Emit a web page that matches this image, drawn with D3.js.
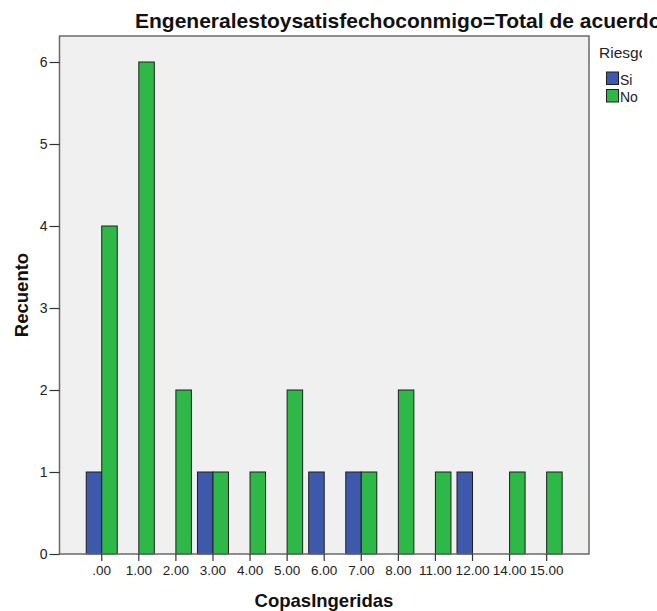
<!DOCTYPE html>
<html>
<head>
<meta charset="utf-8">
<script src="https://cdn.jsdelivr.net/npm/d3@7"></script>
<style>
  html, body { margin: 0; padding: 0; background: #ffffff; }
  svg { display: block; font-family: "Liberation Sans", Arial, sans-serif; }
</style>
</head>
<body>
<svg id="chart" width="657" height="611"></svg>
<script>
// Counts of respondents by drinks consumed, split by risk group
const categories = [".00", "1.00", "2.00", "3.00", "4.00", "5.00", "6.00", "7.00", "8.00", "11.00", "12.00", "14.00", "15.00"];
const siValues   = [1, 0, 0, 1, 0, 0, 1, 1, 0, 0, 1, 0, 0];
const noValues   = [4, 6, 2, 1, 1, 2, 0, 1, 2, 1, 0, 1, 1];
const seriesNames = ["Si", "No"];
const seriesColors = ["#3e58ac", "#2eb848"];
const yTicks = [0, 1, 2, 3, 4, 5, 6];
const titleText = "Engeneralestoysatisfechoconmigo=Total de acuerdo";
const xTitle = "CopasIngeridas";
const yTitle = "Recuento";
const legendTitle = "Riesgo";

const svg = d3.select("#chart");

// The legend column is narrower than its title, so it gets cut off
svg.append("defs").append("clipPath").attr("id", "legendClip")
  .append("rect").attr("x", 590).attr("y", 36).attr("width", 52).attr("height", 120);

const root = svg.append("g");

const frame = { left: 59.5, right: 589, top: 36, bottom: 554 };

const x = d3.scaleBand().domain(categories).range([83.2, 565.2]).padding(0);
const y = d3.scaleLinear().domain([0, 6]).range([554, 62]);
const barW = 15.5;

// Plot background
root.append("rect")
  .attr("x", frame.left).attr("y", frame.top)
  .attr("width", frame.right - frame.left).attr("height", frame.bottom - frame.top)
  .attr("fill", "#f0f0f0");

// Bars
const rows = categories.map((c, i) => ({ cat: c, vals: [siValues[i], noValues[i]] }));
const groups = root.append("g").selectAll("g").data(rows).join("g");
groups.selectAll("rect")
  .data(d => d.vals.map((v, k) => ({ cat: d.cat, v, k })).filter(e => e.v > 0))
  .join("rect")
  .attr("x", e => x(e.cat) + x.bandwidth() / 2 + (e.k === 0 ? -barW : 0))
  .attr("y", e => y(e.v))
  .attr("width", barW)
  .attr("height", e => y(0) - y(e.v))
  .attr("fill", e => seriesColors[e.k])
  .attr("stroke", "#1e1e1e")
  .attr("stroke-width", 1);

// Frame
root.append("rect")
  .attr("x", frame.left).attr("y", frame.top)
  .attr("width", frame.right - frame.left).attr("height", frame.bottom - frame.top)
  .attr("fill", "none")
  .attr("stroke", "#6a6a6a")
  .attr("stroke-width", 1.5);

// Y axis
const yAxis = root.append("g")
  .attr("transform", `translate(${frame.left},0)`)
  .call(d3.axisLeft(y).tickValues(yTicks).tickFormat(d3.format("d")).tickSize(10).tickPadding(2));
yAxis.select(".domain").remove();
yAxis.selectAll(".tick line").attr("stroke", "#333").attr("stroke-width", 1.2);
yAxis.selectAll(".tick text").attr("fill", "#222").style("font-size", "14px")
  .style("font-family", "'Liberation Sans', Arial, sans-serif");

// X axis
const xAxis = root.append("g")
  .attr("transform", `translate(0,${frame.bottom})`)
  .call(d3.axisBottom(x).tickSize(7).tickPadding(4));
xAxis.select(".domain").remove();
xAxis.selectAll(".tick line").attr("stroke", "#333").attr("stroke-width", 1.2);
xAxis.selectAll(".tick text").attr("fill", "#222").style("font-size", "13.5px")
  .style("font-family", "'Liberation Sans', Arial, sans-serif");

// Titles
root.append("text")
  .attr("x", 135).attr("y", 28)
  .attr("font-size", 21).attr("font-weight", "bold").attr("fill", "#111")
  .text(titleText);

root.append("text")
  .attr("x", 324).attr("y", 607)
  .attr("text-anchor", "middle")
  .attr("font-size", 18.5).attr("font-weight", "bold").attr("fill", "#111")
  .text(xTitle);

root.append("text")
  .attr("transform", "translate(28,295) rotate(-90)")
  .attr("text-anchor", "middle")
  .attr("font-size", 18.5).attr("font-weight", "bold").attr("fill", "#111")
  .text(yTitle);

// Legend
const legend = root.append("g").attr("clip-path", "url(#legendClip)");
legend.append("text")
  .attr("x", 599).attr("y", 58)
  .attr("font-size", 15.5).attr("fill", "#222")
  .text(legendTitle);
seriesNames.forEach((name, i) => {
  const ly = 72 + i * 17.5;
  legend.append("rect")
    .attr("x", 606.5).attr("y", ly)
    .attr("width", 12).attr("height", 12.5)
    .attr("fill", seriesColors[i])
    .attr("stroke", "#1e1e1e").attr("stroke-width", 1);
  legend.append("text")
    .attr("x", 620).attr("y", ly + 12.5)
    .attr("font-size", 14).attr("fill", "#222")
    .text(name);
});
</script>
</body>
</html>
